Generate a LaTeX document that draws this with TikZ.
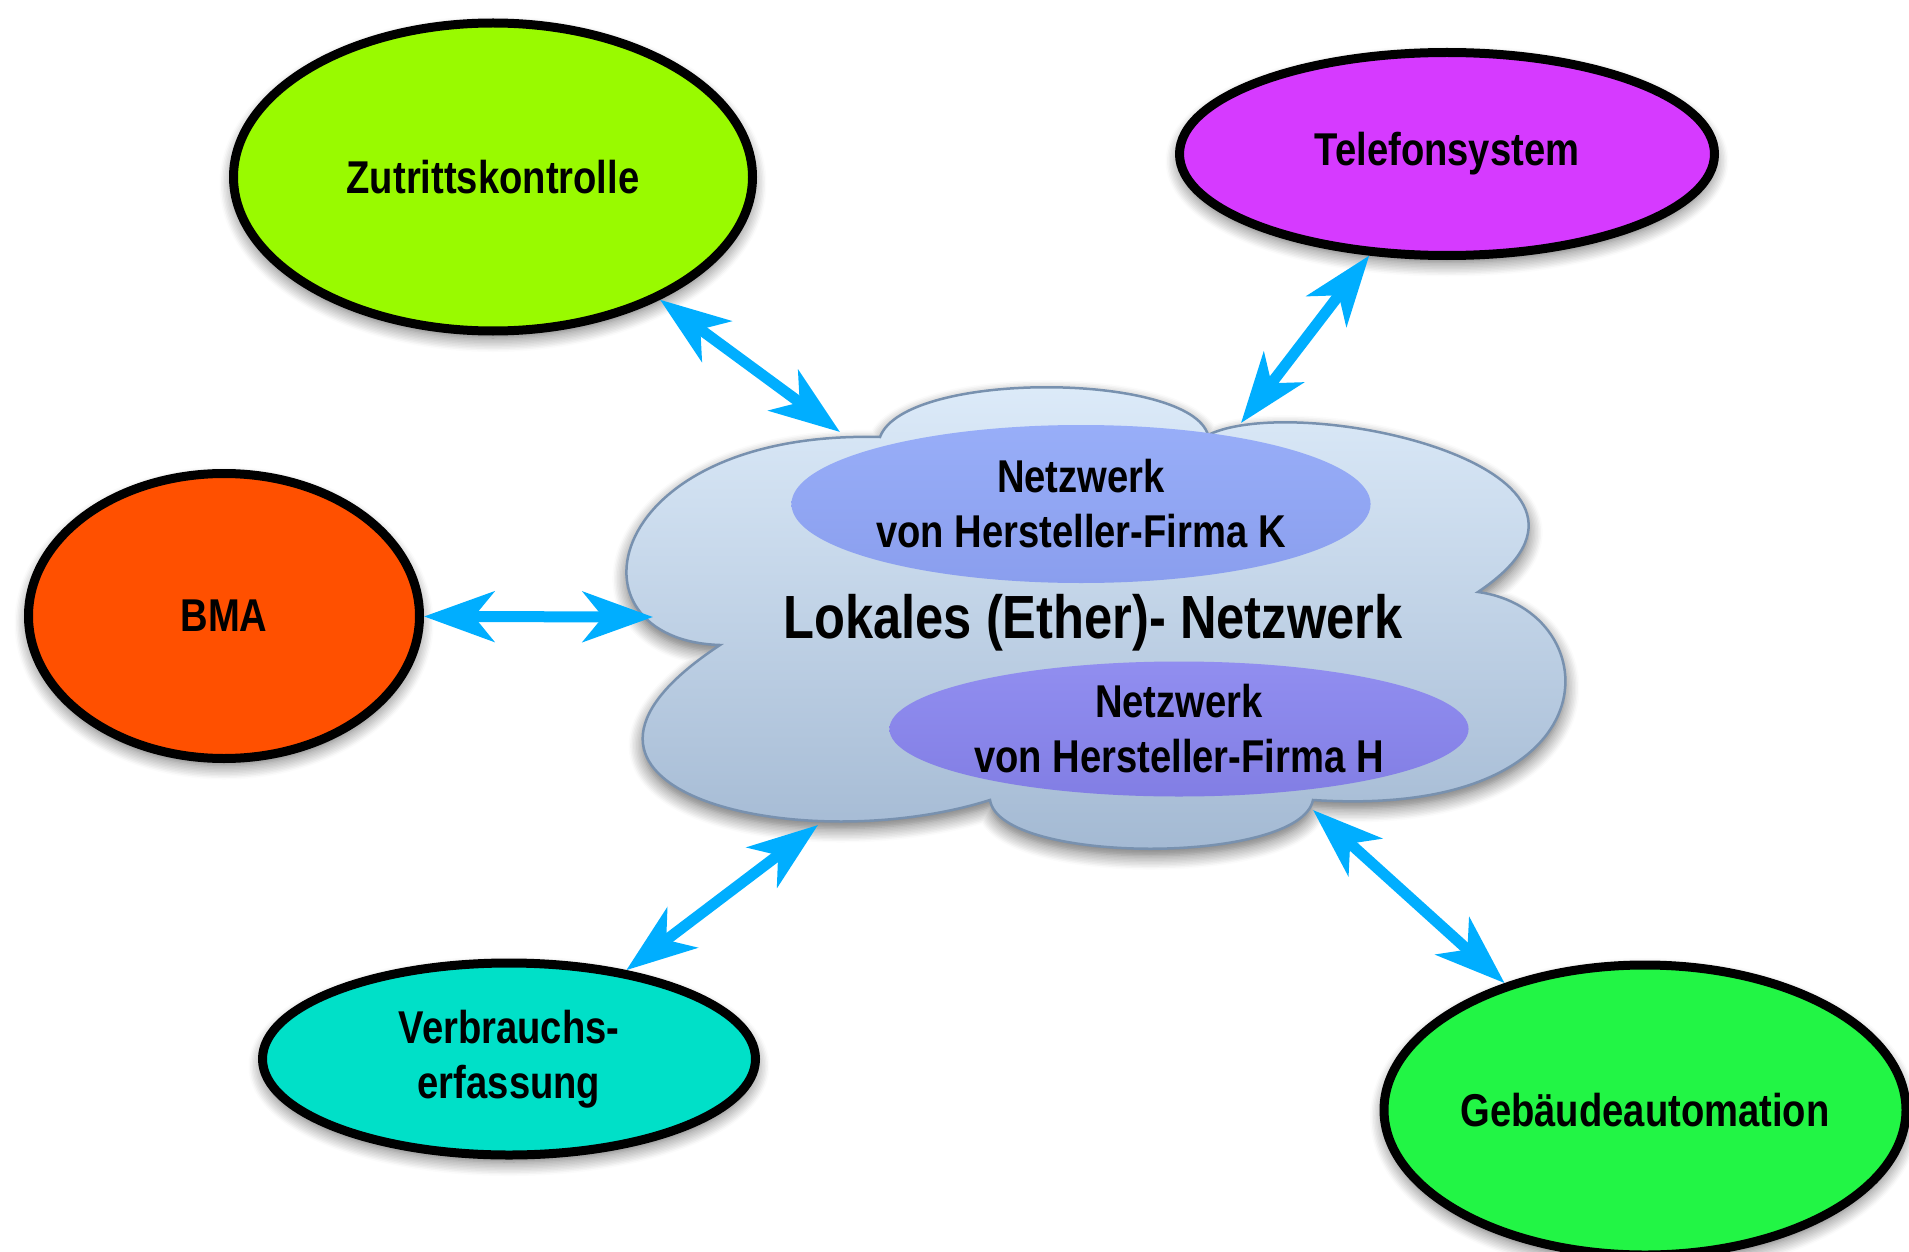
\documentclass[tikz,border=0pt]{standalone}
\usepackage{fontspec}
\setmainfont{Liberation Sans}[FakeStretch=0.83]
\usetikzlibrary{shapes.geometric, arrows.meta, shadows.blur}

\definecolor{linkblue}{RGB}{0,174,255}
\definecolor{cZut}{RGB}{153,250,0}
\definecolor{cTel}{RGB}{214,58,255}
\definecolor{cBma}{RGB}{255,80,0}
\definecolor{cVer}{RGB}{0,224,200}
\definecolor{cGeb}{RGB}{34,245,69}
\definecolor{cloudTop}{RGB}{222,236,250}
\definecolor{cloudBot}{RGB}{162,184,210}
\definecolor{cloudLine}{RGB}{120,145,175}
\definecolor{kTop}{RGB}{152,174,248}
\definecolor{kBot}{RGB}{138,158,238}
\definecolor{hTop}{RGB}{145,142,240}
\definecolor{hBot}{RGB}{130,126,228}

\begin{document}
\begin{tikzpicture}[x=1pt, y=1pt,
  softshadow/.style={blur shadow={shadow xshift=0pt, shadow yshift=-7pt,
      shadow blur radius=14pt, shadow blur steps=10, shadow opacity=60}},
  topic/.style={ellipse, draw=black, line width=9pt, inner sep=0pt,
      align=center, softshadow,
      font=\bfseries\fontsize{46}{55}\selectfont},
  subnet/.style={ellipse, inner sep=0pt, align=center,
      minimum width=572pt, font=\bfseries\fontsize{46}{55}\selectfont},
  biarrow/.style={draw=linkblue, line width=11pt, <->,
      >={Stealth[length=70pt, width=50pt, inset=20pt]}}
]
\useasboundingbox (0,0) rectangle (1909,-1252);

% the local network cloud
\path[softshadow, draw=cloudLine, line width=2.5pt,
      top color=cloudTop, bottom color=cloudBot]
  (880,-437)
  .. controls (905,-370) and (1190,-372) .. (1208,-435)
  .. controls (1300,-390) and (1660,-470) .. (1478,-592)
  .. controls (1610,-610) and (1620,-820) .. (1313,-800)
  .. controls (1300,-865) and (1000,-865) .. (990,-800)
  .. controls (800,-860) and (500,-790) .. (720,-645)
  .. controls (560,-640) and (600,-430) .. (880,-437) -- cycle;

% vendor networks inside the cloud
\node[subnet, minimum height=158pt, top color=kTop, bottom color=kBot]
  (netK) at (1081,-504) {Netzwerk\\von Hersteller-Firma K};
\node[subnet, minimum height=135pt, top color=hTop, bottom color=hBot]
  (netH) at (1179,-729) {Netzwerk\\von Hersteller-Firma H};

\node[font=\bfseries\fontsize{61}{70}\selectfont, anchor=base]
  (lan) at (1093,-638) {Lokales (Ether)- Netzwerk};

% attachment points on the cloud outline
\coordinate (cZ) at (840,-432);
\coordinate (cT) at (1241,-423);
\coordinate (cB) at (653,-617);
\coordinate (cV) at (818,-825);
\coordinate (cG) at (1313,-810);

% connected systems
\node[topic, fill=cZut, minimum width=519pt, minimum height=308pt]
  (zut) at (493,-177) {Zutrittskontrolle};
\node[topic, fill=cTel, minimum width=535pt, minimum height=203pt]
  (tel) at (1447,-154) {Telefonsystem};
\node[topic, fill=cBma, minimum width=391pt, minimum height=285pt]
  (bma) at (224,-616) {BMA};
\node[topic, fill=cVer, minimum width=493pt, minimum height=192pt]
  (ver) at (509,-1059) {Verbrauchs-\\erfassung};
\node[topic, fill=cGeb, minimum width=510pt, minimum height=290pt]
  (geb) at (1645,-1110) {Gebäudeautomation};

% links
\draw[biarrow] (zut) -- (cZ);
\draw[biarrow] (tel) -- (cT);
\draw[biarrow] (bma) -- (cB);
\draw[biarrow] (ver) -- (cV);
\draw[biarrow] (geb) -- (cG);
\end{tikzpicture}
\end{document}
